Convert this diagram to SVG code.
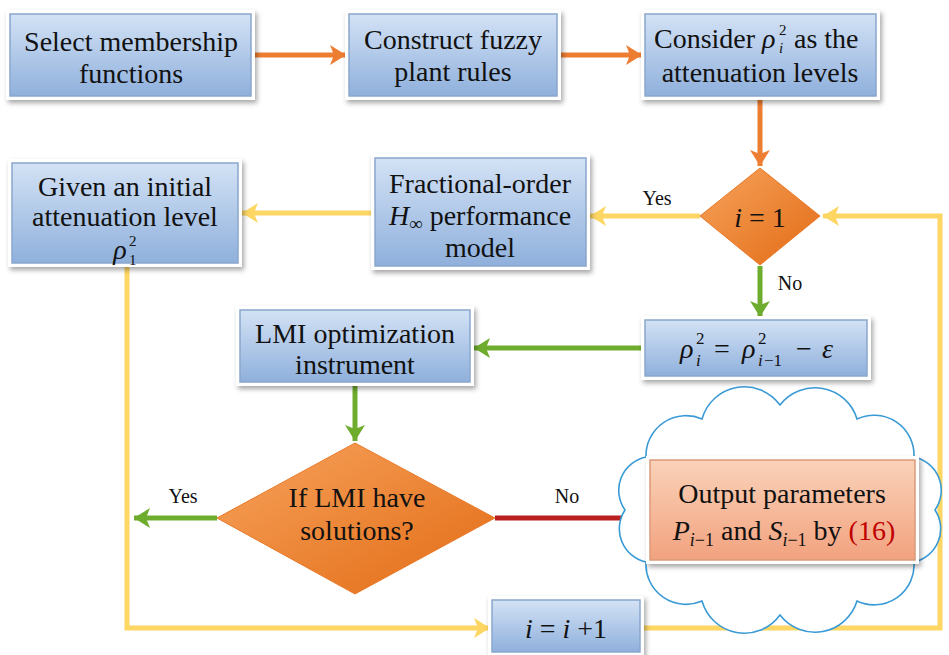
<svg xmlns="http://www.w3.org/2000/svg" width="949" height="655" viewBox="0 0 949 655" font-family="'Liberation Serif', 'DejaVu Serif', serif">
<defs>
<linearGradient id="gBlue" x1="0" y1="0" x2="0" y2="1">
<stop offset="0" stop-color="#d3e2f5"/><stop offset="1" stop-color="#8fb0dc"/>
</linearGradient>
<linearGradient id="gSalmon" x1="0" y1="0" x2="0" y2="1">
<stop offset="0" stop-color="#fad2b9"/><stop offset="1" stop-color="#f2a27e"/>
</linearGradient>
<linearGradient id="gOrange" x1="0" y1="0" x2="1" y2="1">
<stop offset="0" stop-color="#f7a35c"/><stop offset="1" stop-color="#e26b15"/>
</linearGradient>
<filter id="sh" x="-10%" y="-10%" width="125%" height="130%">
<feDropShadow dx="2" dy="3" stdDeviation="2.5" flood-color="#000" flood-opacity="0.35"/>
</filter>
<marker id="aO" markerWidth="4" markerHeight="4" refX="3.2" refY="2" orient="auto" markerUnits="strokeWidth"><path d="M0,0 L3.2,2 L0,4 L0.8,2 Z" fill="#ed7d31"/></marker>
<marker id="aY" markerWidth="4" markerHeight="4" refX="3.2" refY="2" orient="auto" markerUnits="strokeWidth"><path d="M0,0 L3.2,2 L0,4 L0.8,2 Z" fill="#fdd663"/></marker>
<marker id="aG" markerWidth="4" markerHeight="4" refX="3.2" refY="2" orient="auto" markerUnits="strokeWidth"><path d="M0,0 L3.2,2 L0,4 L0.8,2 Z" fill="#6eac2e"/></marker>
<marker id="aR" markerWidth="4" markerHeight="4" refX="3.2" refY="2" orient="auto" markerUnits="strokeWidth"><path d="M0,0 L3.2,2 L0,4 L0.8,2 Z" fill="#b9201f"/></marker>
</defs>
<style>
.frame{fill:#fff;filter:url(#sh)}
.box{fill:url(#gBlue);stroke:#8aa6cc;stroke-width:1.5}
.sal{fill:url(#gSalmon);stroke:#d99a7b;stroke-width:1.5}
.dia{fill:url(#gOrange);stroke:#e97a2a;stroke-width:1}
text{font-family:'Liberation Serif','DejaVu Serif',serif}
.t{font-size:28px;fill:#111;text-anchor:middle}
.l{font-size:28px;fill:#111}
.s{font-size:17px;fill:#111}
.ss{font-size:15px;fill:#111}
.m{font-style:italic}
.lab{font-size:20px;fill:#111;text-anchor:middle}
.cO{stroke:#ed7d31;stroke-width:5;fill:none;marker-end:url(#aO)}
.cYa{stroke:#fdd663;stroke-width:5;fill:none;marker-end:url(#aY)}
.cG{stroke:#6eac2e;stroke-width:5;fill:none;marker-end:url(#aG)}
.cR{stroke:#b9201f;stroke-width:5;fill:none;marker-end:url(#aR)}
</style>

<g id="connectors">
<line class="cO" x1="251" y1="55" x2="346" y2="55"/>
<line class="cO" x1="557" y1="55" x2="642" y2="55"/>
<line class="cO" x1="760" y1="97" x2="760" y2="166"/>
<line class="cYa" x1="700" y1="216" x2="590" y2="216"/>
<line class="cYa" x1="375" y1="213" x2="242" y2="213"/>
<polyline class="cYa" points="640,628 940,628 940,216 823,216"/>
<polyline class="cYa" points="127,263 127,628 490,628"/>
<line class="cG" x1="760" y1="266" x2="760" y2="317"/>
<line class="cG" x1="645" y1="348" x2="474" y2="348"/>
<line class="cG" x1="355" y1="382" x2="355" y2="441"/>
<line class="cG" x1="217" y1="518" x2="134" y2="518"/>
<line class="cR" x1="495" y1="518" x2="648" y2="518"/>
</g>

<g id="cloud">
<path d="M935,510 A34,34 0 0 1 914,562 A40,40 0 0 1 857,601 A44,44 0 0 1 780,615 A44,44 0 0 1 702,601 A40,40 0 0 1 646,562 A34,34 0 0 1 625,510 A34,34 0 0 1 646,457 A40,40 0 0 1 702,419 A44,44 0 0 1 780,405 A44,44 0 0 1 857,419 A40,40 0 0 1 914,457 A34,34 0 0 1 935,510 Z" fill="#fff" stroke="#3a9ad6" stroke-width="1.6"/>
</g>

<g id="n1"><rect class="frame" x="6" y="10" width="249" height="90"/><rect class="box" x="10" y="14" width="241" height="82"/>
<text class="t" x="131" y="51">Select membership</text><text class="t" x="131" y="83">functions</text></g>

<g id="n2"><rect class="frame" x="345" y="10" width="216" height="90"/><rect class="box" x="349" y="14" width="208" height="82"/>
<text class="t" x="453" y="49">Construct fuzzy</text><text class="t" x="453" y="81">plant rules</text></g>

<g id="n3"><rect class="frame" x="641" y="10" width="239" height="90"/><rect class="box" x="645" y="14" width="231" height="82"/>
<text class="l" x="654" y="48">Consider</text>
<text class="l m" x="762" y="48">ρ</text><text class="ss m" x="779" y="53">i</text><text class="ss" x="779" y="35">2</text>
<text class="l" x="794" y="48">as the</text>
<text class="t" x="760" y="82">attenuation levels</text></g>

<g id="n4"><polygon class="dia" points="760,168 820,216 760,265 700,216"/>
<text class="t" x="760" y="227" font-size="31"><tspan class="m">i</tspan> = 1</text></g>

<g id="n5"><rect class="frame" x="371" y="154" width="219" height="116"/><rect class="box" x="375" y="158" width="211" height="108"/>
<text class="t" x="480" y="193">Fractional-order</text>
<text class="t" x="480" y="225"><tspan class="m">H</tspan><tspan font-size="19" dy="5">∞</tspan><tspan dy="-5"> performance</tspan></text>
<text class="t" x="480" y="257">model</text></g>

<g id="n6"><rect class="frame" x="8" y="159" width="234" height="108"/><rect class="box" x="12" y="163" width="226" height="100"/>
<text class="t" x="125" y="196">Given an initial</text><text class="t" x="125" y="226">attenuation level</text>
<text class="t m" x="120" y="259">ρ</text><text class="ss" x="129" y="265">1</text><text class="ss" x="129" y="246">2</text></g>

<g id="n7"><rect class="frame" x="641" y="316" width="230" height="64"/><rect class="box" x="645" y="320" width="222" height="56"/>
<text class="l m" x="680" y="358">ρ</text><text class="s m" x="696" y="366">i</text><text class="s" x="696" y="344">2</text>
<text class="l" x="714" y="358">=</text>
<text class="l m" x="742" y="358">ρ</text><text class="s m" x="758" y="366">i</text><text class="s" x="764" y="366">−1</text><text class="s" x="758" y="344">2</text>
<text class="l" x="796" y="358">−</text>
<text class="l m" x="822" y="358">ε</text></g>

<g id="n8"><rect class="frame" x="236" y="306" width="238" height="80"/><rect class="box" x="240" y="310" width="230" height="72"/>
<text class="t" x="355" y="343">LMI optimization</text><text class="t" x="355" y="374">instrument</text></g>

<g id="n9"><polygon class="dia" points="355,443 495,518 355,594 217,518"/>
<text class="t" x="357" y="507">If LMI have</text><text class="t" x="357" y="540">solutions?</text></g>

<g id="n10"><rect class="frame" x="646" y="456" width="273" height="108"/><rect class="sal" x="650" y="460" width="265" height="100"/>
<text class="t" x="782" y="503">Output parameters</text>
<text class="t" x="784" y="540"><tspan class="m">P</tspan><tspan font-size="18" class="m" dy="6">i</tspan><tspan font-size="18">−1</tspan><tspan dy="-6"> and </tspan><tspan class="m">S</tspan><tspan font-size="18" class="m" dy="6">i</tspan><tspan font-size="18">−1</tspan><tspan dy="-6"> by </tspan><tspan fill="#c00000">(16)</tspan></text></g>

<g id="n11"><rect class="frame" x="488" y="596" width="156" height="60"/><rect class="box" x="492" y="600" width="148" height="52"/>
<text class="t" x="566" y="638" font-size="35"><tspan class="m">i</tspan> = <tspan class="m">i</tspan> +1</text></g>

<g id="labels">
<text class="lab" x="657" y="205">Yes</text>
<text class="lab" x="790" y="290">No</text>
<text class="lab" x="183" y="503">Yes</text>
<text class="lab" x="567" y="503">No</text>
</g>
</svg>
